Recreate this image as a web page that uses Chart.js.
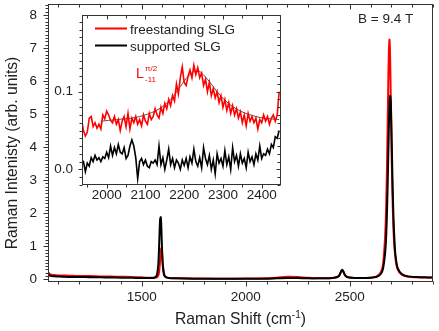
<!DOCTYPE html>
<html>
<head>
<meta charset="utf-8">
<script src="https://cdn.jsdelivr.net/npm/chart.js@4"></script>
<style>
  html, body { margin: 0; padding: 0; background: #fff; }
  #wrap { position: relative; width: 439px; height: 331px; }
  #wrap canvas { position: absolute; left: 0; top: 0; }
</style>
</head>
<body>
<div id="wrap">
  <canvas id="mainChart" width="439" height="331"></canvas>
  <canvas id="insetChart" width="439" height="331"></canvas>
</div>
<script>
// ---- main spectrum (Raman shift, cm-1) ----
const shift = [1050, 1060, 1080, 1100, 1150, 1200, 1250, 1300, 1350, 1400,
  1450, 1500, 1540, 1560, 1570, 1575, 1580, 1583, 1586, 1589,
  1592, 1595, 1598, 1602, 1608, 1615, 1630, 1660, 1700, 1800,
  1900, 2000, 2100, 2150, 2200, 2250, 2300, 2350, 2400, 2430,
  2445, 2452, 2458, 2464, 2470, 2477, 2488, 2510, 2550, 2600,
  2630, 2650, 2660, 2670, 2675, 2680, 2685, 2688, 2691, 2694,
  2697, 2700, 2705, 2710, 2715, 2720, 2730, 2750, 2780, 2820,
  2860, 2900];
const freeSLG = [0.22, 0.15, 0.13, 0.12, 0.11, 0.10, 0.10, 0.09, 0.085, 0.08,
  0.075, 0.06, 0.05, 0.05, 0.055, 0.07, 0.12, 0.2, 0.36, 0.6,
  0.85, 0.95, 0.82, 0.45, 0.17, 0.08, 0.045, 0.035, 0.03, 0.025,
  0.02, 0.025, 0.035, 0.05, 0.08, 0.07, 0.045, 0.035, 0.035, 0.05,
  0.08, 0.14, 0.22, 0.27, 0.22, 0.13, 0.07, 0.045, 0.04, 0.05,
  0.09, 0.22, 0.45, 1.3, 2.2, 3.8, 5.9, 6.9, 7.25, 6.7,
  5.5, 4.2, 2.6, 1.5, 0.95, 0.62, 0.3, 0.14, 0.08, 0.06,
  0.055, 0.05];
const suppSLG = [0.17, 0.11, 0.095, 0.085, 0.075, 0.07, 0.065, 0.06, 0.055, 0.05,
  0.045, 0.04, 0.04, 0.05, 0.09, 0.18, 0.45, 0.85, 1.4, 1.82,
  1.88, 1.5, 0.9, 0.38, 0.13, 0.065, 0.04, 0.03, 0.025, 0.02,
  0.02, 0.02, 0.02, 0.03, 0.04, 0.04, 0.03, 0.03, 0.035, 0.055,
  0.09, 0.15, 0.24, 0.29, 0.23, 0.13, 0.07, 0.045, 0.04, 0.05,
  0.08, 0.17, 0.33, 0.8, 1.3, 2.3, 3.7, 4.6, 5.25, 5.55,
  5.4, 4.7, 3.1, 1.9, 1.15, 0.72, 0.35, 0.16, 0.09, 0.07,
  0.06, 0.06];

// ---- inset (zoom on 1935-2445 cm-1) ----
const insetShift = [1935, 1940, 1945, 1950, 1955, 1960, 1965, 1970, 1975, 1980,
  1985, 1990, 1995, 2000, 2005, 2010, 2015, 2020, 2025, 2030,
  2035, 2040, 2045, 2050, 2055, 2060, 2065, 2070, 2075, 2080,
  2085, 2090, 2095, 2100, 2105, 2110, 2115, 2120, 2125, 2130,
  2135, 2140, 2145, 2150, 2155, 2160, 2165, 2170, 2175, 2180,
  2185, 2190, 2195, 2200, 2205, 2210, 2215, 2220, 2225, 2230,
  2235, 2240, 2245, 2250, 2255, 2260, 2265, 2270, 2275, 2280,
  2285, 2290, 2295, 2300, 2305, 2310, 2315, 2320, 2325, 2330,
  2335, 2340, 2345, 2350, 2355, 2360, 2365, 2370, 2375, 2380,
  2385, 2390, 2395, 2400, 2405, 2410, 2415, 2420, 2425, 2430,
  2435, 2440, 2445];
const insetFree = [0.065, 0.05, 0.043, 0.048, 0.066, 0.068, 0.055, 0.06, 0.053, 0.058,
  0.052, 0.07, 0.065, 0.075, 0.07, 0.063, 0.06, 0.068, 0.058, 0.064,
  0.05, 0.062, 0.068, 0.055, 0.072, 0.052, 0.066, 0.06, 0.068, 0.058,
  0.064, 0.056, 0.07, 0.062, 0.058, 0.072, 0.064, 0.068, 0.078, 0.07,
  0.066, 0.08, 0.072, 0.085, 0.078, 0.09, 0.082, 0.095, 0.088, 0.11,
  0.097, 0.118, 0.132, 0.112, 0.108, 0.12, 0.128, 0.118, 0.134, 0.122,
  0.131, 0.118, 0.124, 0.108, 0.116, 0.1, 0.112, 0.095, 0.104, 0.092,
  0.1, 0.086, 0.095, 0.08, 0.09, 0.076, 0.086, 0.072, 0.082, 0.07,
  0.078, 0.066, 0.074, 0.06, 0.07, 0.056, 0.072, 0.062, 0.068, 0.06,
  0.066, 0.052, 0.064, 0.06, 0.07, 0.062, 0.068, 0.058, 0.066, 0.07,
  0.062, 0.07, 0.1];
const insetSupp = [0.012, 0.01, -0.003, 0.008, 0.004, 0.015, 0.01, 0.018, 0.012, 0.015,
  0.01, 0.016, 0.014, 0.022, 0.015, 0.03, 0.018, 0.028, 0.02, 0.032,
  0.022, 0.02, 0.028, 0.014, 0.018, 0.03, 0.038, 0.03, 0.015, -0.012,
  0.01, 0.014, 0.006, 0.012, 0.004, 0.002, 0.01, 0.008, 0.012, 0.006,
  0.03, 0.006, 0.015, 0.0, 0.012, 0.026, 0.006, 0.014, 0.002, 0.012,
  0.008, 0.0, 0.012, 0.005, 0.014, 0.002, 0.016, 0.008, 0.026, 0.01,
  0.004, 0.015, 0.002, 0.028, 0.014, 0.006, 0.018, 0.0, 0.012, -0.006,
  0.02, 0.008, 0.014, 0.004, 0.024, 0.006, 0.016, 0.0, 0.028, 0.01,
  0.018, 0.004, 0.02, 0.008, 0.014, 0.002, 0.022, 0.01, 0.016, 0.006,
  0.02, 0.012, 0.03, 0.014, 0.02, 0.018, 0.026, 0.02, 0.032, 0.028,
  0.042, 0.04, 0.05];
// Lorentzian fit of the L mode (grey line)
const fitShift = [1985, 2005, 2025, 2045, 2065, 2085, 2105, 2125, 2145, 2165,
  2185, 2205, 2225, 2235, 2245, 2265, 2285, 2305, 2325, 2345,
  2365, 2385, 2405, 2425, 2445];
const fitCurve = [0.062, 0.063, 0.064, 0.065, 0.066, 0.068, 0.071, 0.075, 0.081, 0.09,
  0.103, 0.117, 0.126, 0.127, 0.124, 0.113, 0.1, 0.089, 0.081, 0.075,
  0.071, 0.068, 0.066, 0.065, 0.064];

const mainXTicks = [1500, 2000, 2500];
const mainYTicks = [0, 1, 2, 3, 4, 5, 6, 7, 8];
const insetXTicks = [2000, 2100, 2200, 2300, 2400];
const insetYTicks = [0, 0.1];

const FONT = "'Liberation Sans', Arial, Helvetica, sans-serif";
const INK = '#222';
const RED = '#ff0000';

Chart.defaults.font.family = FONT;
Chart.defaults.color = INK;

function pts(xs, ys) {
  return xs.map((x, i) => ({ x: x, y: ys[i] }));
}

function stepValues(min, max, step) {
  const out = [];
  for (let k = Math.ceil(min / step - 1e-9); k * step <= max + 1e-9; k++) out.push(k * step);
  return out;
}

// box around the plot + major/minor ticks (outer on left/bottom, inner mirrors)
const frameTicks = {
  id: 'frameTicks',
  afterDatasetsDraw(chart, args, o) {
    const { ctx, chartArea: a, scales } = chart;
    const xs = scales.x, ys = scales.y;
    const l = Math.round(a.left) + 0.5, r = Math.round(a.right) - 0.5;
    const t = Math.round(a.top) + 0.5, b = Math.round(a.bottom) - 0.5;
    ctx.save();
    ctx.strokeStyle = o.color;
    ctx.lineWidth = 1;
    ctx.strokeRect(l, t, r - l, b - t);
    ctx.beginPath();
    stepValues(xs.min, xs.max, o.xMinor).forEach(v => {
      const major = Math.abs(v / o.xMajor - Math.round(v / o.xMajor)) < 1e-6;
      const len = major ? o.major : o.minor;
      const px = Math.round(xs.getPixelForValue(v)) + 0.5;
      ctx.moveTo(px, b); ctx.lineTo(px, b + len);
      if (o.top) { ctx.moveTo(px, t); ctx.lineTo(px, t + len); }
    });
    stepValues(ys.min, ys.max, o.yMinor).forEach(v => {
      const major = Math.abs(v / o.yMajor - Math.round(v / o.yMajor)) < 1e-6;
      const len = major ? o.major : o.minor;
      const py = Math.round(ys.getPixelForValue(v)) + 0.5;
      ctx.moveTo(l - len, py); ctx.lineTo(l, py);
      if (o.right) { ctx.moveTo(r, py); ctx.lineTo(r - len, py); }
    });
    ctx.stroke();
    ctx.restore();
  }
};

// text pieces with super/subscripts: [text, size, dy]
function drawRich(ctx, parts, x, y, align) {
  let w = 0;
  parts.forEach(p => { ctx.font = p[1] + 'px ' + FONT; w += ctx.measureText(p[0]).width; });
  let cx = align === 'center' ? x - w / 2 : x;
  ctx.textAlign = 'left';
  ctx.textBaseline = 'alphabetic';
  parts.forEach(p => {
    ctx.font = p[1] + 'px ' + FONT;
    ctx.fillText(p[0], cx, y + (p[2] || 0));
    cx += ctx.measureText(p[0]).width;
  });
}

const mainText = {
  id: 'mainText',
  afterDraw(chart) {
    const ctx = chart.ctx;
    const a = chart.chartArea;
    ctx.save();
    ctx.fillStyle = INK;
    drawRich(ctx, [['Raman Shift (cm', 15.7], ['-1', 10, -6], [')', 15.7]], (a.left + a.right) / 2, 324, 'center');
    ctx.translate(16.5, 153);
    ctx.rotate(-Math.PI / 2);
    drawRich(ctx, [['Raman Intenisty (arb. units)', 15.7]], 0, 0, 'center');
    ctx.restore();
    ctx.save();
    ctx.fillStyle = INK;
    drawRich(ctx, [['B = 9.4 T', 13.5]], 358, 23.3, 'left');
    ctx.restore();
  }
};

const insetDecor = {
  id: 'insetDecor',
  beforeDraw(chart) {
    const { ctx, chartArea: a } = chart;
    ctx.save();
    ctx.fillStyle = '#fff';
    ctx.fillRect(a.left, a.top, a.right - a.left, a.bottom - a.top);
    ctx.restore();
  },
  afterDraw(chart) {
    const ctx = chart.ctx;
    const sets = chart.data.datasets.filter(d => d.label);
    ctx.save();
    sets.forEach((d, i) => {
      const y = 28.5 + i * 17;
      ctx.strokeStyle = d.borderColor;
      ctx.lineWidth = 2;
      ctx.beginPath();
      ctx.moveTo(95, y); ctx.lineTo(127, y);
      ctx.stroke();
      ctx.fillStyle = INK;
      drawRich(ctx, [[d.label, 13.5]], 130, y + 5, 'left');
    });
    ctx.fillStyle = RED;
    drawRich(ctx, [['L', 14]], 136, 78.3, 'left');
    drawRich(ctx, [['\u03c0/2', 8]], 145, 71, 'left');
    drawRich(ctx, [['-11', 8]], 145, 82, 'left');
    ctx.restore();
  }
};

const tickFont = { size: 13.5 };
const plain = v => String(v);

new Chart(document.getElementById('mainChart'), {
  type: 'line',
  data: {
    datasets: [
      { data: pts(shift, suppSLG), borderColor: '#000', borderWidth: 2, pointRadius: 0, tension: 0.3 },
      { data: pts(shift, freeSLG), borderColor: RED, borderWidth: 2, pointRadius: 0, tension: 0.3 }
    ]
  },
  options: {
    responsive: false,
    animation: false,
    events: [],
    layout: { padding: { top: 4, right: 6, left: 0, bottom: 0 } },
    plugins: {
      legend: { display: false },
      tooltip: { enabled: false },
      frameTicks: { color: '#333', xMinor: 100, xMajor: 500, yMinor: 0.1, yMajor: 1, major: 5, minor: 3, top: true, right: false }
    },
    scales: {
      x: {
        type: 'linear', min: 1050, max: 2900,
        grid: { display: false, drawTicks: false }, border: { display: false },
        ticks: { font: tickFont, color: INK, padding: 7, maxRotation: 0, callback: plain },
        afterBuildTicks: s => { s.ticks = mainXTicks.map(v => ({ value: v })); },
        afterFit: s => { s.height = 49; s.paddingLeft = 0; s.paddingRight = 0; }
      },
      y: {
        min: -0.08, max: 8.33,
        grid: { display: false, drawTicks: false }, border: { display: false },
        ticks: { font: tickFont, color: INK, padding: 11, callback: plain },
        afterBuildTicks: s => { s.ticks = mainYTicks.map(v => ({ value: v })); },
        afterFit: s => { s.width = 48; s.paddingTop = 0; s.paddingBottom = 0; }
      }
    }
  },
  plugins: [frameTicks, mainText]
});

new Chart(document.getElementById('insetChart'), {
  type: 'line',
  data: {
    datasets: [
      { label: 'freestanding SLG', data: pts(insetShift, insetFree), borderColor: RED, borderWidth: 1.6, pointRadius: 0 },
      { label: 'supported SLG', data: pts(insetShift, insetSupp), borderColor: '#000', borderWidth: 1.6, pointRadius: 0 },
      { data: pts(fitShift, fitCurve), borderColor: '#555', borderWidth: 1, pointRadius: 0, cubicInterpolationMode: 'monotone' }
    ]
  },
  options: {
    responsive: false,
    animation: false,
    events: [],
    layout: { padding: { top: 15, right: 158, left: 40, bottom: 0 } },
    plugins: {
      legend: { display: false },
      tooltip: { enabled: false },
      frameTicks: { color: '#333', xMinor: 50, xMajor: 100, yMinor: 0.01, yMajor: 0.1, major: 4, minor: 3, top: true, right: true }
    },
    scales: {
      x: {
        type: 'linear', min: 1936.3, max: 2449.8,
        grid: { display: false, drawTicks: false }, border: { display: false },
        ticks: { font: tickFont, color: INK, padding: 2, maxRotation: 0, callback: plain },
        afterBuildTicks: s => { s.ticks = insetXTicks.map(v => ({ value: v })); },
        afterFit: s => { s.height = 146; s.paddingLeft = 0; s.paddingRight = 0; }
      },
      y: {
        min: -0.0202, max: 0.1988,
        grid: { display: false, drawTicks: false }, border: { display: false },
        ticks: { font: tickFont, color: INK, padding: 9, callback: v => v.toFixed(1) },
        afterBuildTicks: s => { s.ticks = insetYTicks.map(v => ({ value: v })); },
        afterFit: s => { s.width = 42; s.paddingTop = 0; s.paddingBottom = 0; }
      }
    }
  },
  plugins: [frameTicks, insetDecor]
});
</script>
</body>
</html>
